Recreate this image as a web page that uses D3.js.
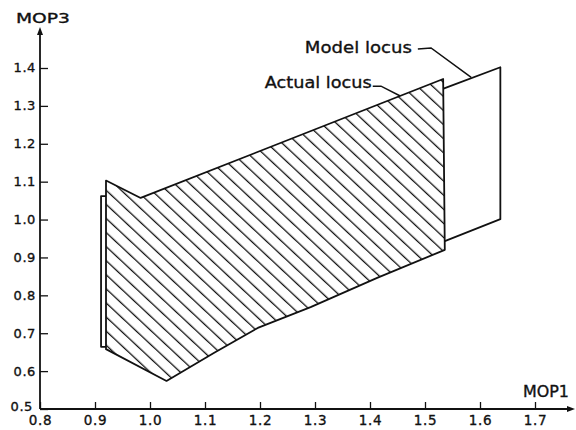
<!DOCTYPE html>
<html>
<head>
<meta charset="utf-8">
<script src="https://cdn.jsdelivr.net/npm/d3@7"></script>
<style>
  html, body { margin: 0; padding: 0; background: #fff; }
  svg text { font-family: "DejaVu Sans", sans-serif; fill: #111; stroke: #111; stroke-width: 0.35px; }
</style>
</head>
<body>
<svg id="chart" width="576" height="430"></svg>
<script>
// ---- data ----
const xTicks = [0.8, 0.9, 1.0, 1.1, 1.2, 1.3, 1.4, 1.5, 1.6, 1.7];
const yTicks = [0.5, 0.6, 0.7, 0.8, 0.9, 1.0, 1.1, 1.2, 1.3, 1.4];

// Model locus outline (MOP1, MOP3); parts behind the actual locus are hidden
const modelX = [0.911, 0.911, 0.921, 0.990, 1.536, 1.637, 1.637, 1.536, 0.921];
const modelY = [0.664, 1.062, 1.062, 1.040, 1.347, 1.402, 1.001, 0.943, 0.664];

// Actual locus outline (hatched)
const actualX = [0.920, 0.920, 0.983, 1.533, 1.536, 1.413, 1.292, 1.196, 1.116, 1.030];
const actualY = [0.658, 1.103, 1.057, 1.371, 0.920, 0.846, 0.769, 0.714, 0.648, 0.574];

// Callout leaders (data coordinates)
const modelLeaderX = [1.487, 1.511, 1.584];
const modelLeaderY = [1.450, 1.453, 1.375];
const actualLeaderX = [1.405, 1.420, 1.455];
const actualLeaderY = [1.352, 1.352, 1.326];

const labels = { x: "MOP1", y: "MOP3", model: "Model locus", actual: "Actual locus" };

// ---- drawing ----
const svg = d3.select("#chart");
const x = d3.scaleLinear().domain([0.8, 1.7]).range([40, 535]);
const y = d3.scaleLinear().domain([0.5, 1.4]).range([409, 68]);

const defs = svg.append("defs");
defs.append("pattern")
  .attr("id", "hatch")
  .attr("patternUnits", "userSpaceOnUse")
  .attr("width", 20).attr("height", 10.3)
  .attr("patternTransform", "rotate(43)")
  .append("line")
  .attr("x1", -5).attr("x2", 25).attr("y1", 5).attr("y2", 5)
  .attr("stroke", "#111").attr("stroke-width", 1.3);

const line = d3.line().x(d => x(d[0])).y(d => y(d[1]));
const modelPts = modelX.map((v, i) => [v, modelY[i]]);
const actualPts = actualX.map((v, i) => [v, actualY[i]]);

// model locus
svg.append("path")
  .attr("d", line(modelPts) + "Z")
  .attr("fill", "#fff").attr("stroke", "#111")
  .attr("stroke-width", 1.8).attr("stroke-linejoin", "round");

// actual locus
svg.append("path").attr("d", line(actualPts) + "Z").attr("fill", "#fff");
svg.append("path").attr("d", line(actualPts) + "Z").attr("fill", "url(#hatch)");
svg.append("path")
  .attr("d", line(actualPts) + "Z")
  .attr("fill", "none").attr("stroke", "#111")
  .attr("stroke-width", 1.8).attr("stroke-linejoin", "round");

// axes
const xAxis = d3.axisBottom(x).tickValues(xTicks).tickFormat(d3.format(".1f"))
  .tickSizeInner(-7).tickSizeOuter(0).tickPadding(6);
const yAxis = d3.axisLeft(y).tickValues(yTicks).tickFormat(d3.format(".1f"))
  .tickSizeInner(-8).tickSizeOuter(0).tickPadding(4);

const gx = svg.append("g").attr("transform", `translate(0,${y(0.5)})`).call(xAxis);
const gy = svg.append("g").attr("transform", `translate(${x(0.8)},0)`).call(yAxis);
[gx, gy].forEach(g => {
  g.select(".domain").remove();
  g.selectAll(".tick line").attr("stroke", "#111").attr("stroke-width", 1.3);
  g.selectAll(".tick text")
    .style("font-family", '"DejaVu Sans", sans-serif')
    .attr("fill", "#111")
    .attr("letter-spacing", "0.6");
});
gx.selectAll(".tick text").style("font-size", "13.5px");
gy.selectAll(".tick text").style("font-size", "13px").attr("dy", "0.3em");
// the lowest y label sits just above the corner, as in the reference
gy.selectAll(".tick text").filter(d => d === yTicks[0])
  .attr("dx", -3).attr("dy", "0.15em");

// axis lines with arrows
const x0 = x(0.8), y0 = y(0.5);
svg.append("line").attr("x1", x0).attr("y1", y0).attr("x2", 571).attr("y2", y0)
  .attr("stroke", "#111").attr("stroke-width", 1.8);
svg.append("path").attr("d", `M575,${y0} L567,${y0 - 3} L567,${y0 + 3} Z`).attr("fill", "#111");
svg.append("line").attr("x1", x0).attr("y1", y0).attr("x2", x0).attr("y2", 32)
  .attr("stroke", "#111").attr("stroke-width", 1.8);
svg.append("path").attr("d", `M${x0},27 L${x0 - 3},35 L${x0 + 3},35 Z`).attr("fill", "#111");

// axis titles
svg.append("text").attr("x", 16).attr("y", 23).text(labels.y)
  .style("font-size", "14px").attr("textLength", 54).attr("lengthAdjust", "spacingAndGlyphs");
svg.append("text").attr("x", 523).attr("y", 397).text(labels.x)
  .style("font-size", "15.5px").attr("textLength", 46).attr("lengthAdjust", "spacingAndGlyphs");

// callouts
const leader = d3.line().x(d => x(d[0])).y(d => y(d[1]));
const mL = modelLeaderX.map((v, i) => [v, modelLeaderY[i]]);
const aL = actualLeaderX.map((v, i) => [v, actualLeaderY[i]]);
svg.append("path").attr("d", leader(mL)).attr("fill", "none")
  .attr("stroke", "#111").attr("stroke-width", 1.5);
svg.append("path").attr("d", leader(aL)).attr("fill", "none")
  .attr("stroke", "#111").attr("stroke-width", 1.5);

svg.append("text").attr("x", x(mL[0][0]) - 113).attr("y", y(mL[0][1]) + 4)
  .text(labels.model).style("font-size", "16.5px")
  .attr("textLength", 107).attr("lengthAdjust", "spacingAndGlyphs");
svg.append("text").attr("x", x(aL[0][0]) - 108).attr("y", y(aL[0][1]) + 2)
  .text(labels.actual).style("font-size", "16.5px")
  .attr("textLength", 107).attr("lengthAdjust", "spacingAndGlyphs");
</script>
</body>
</html>
